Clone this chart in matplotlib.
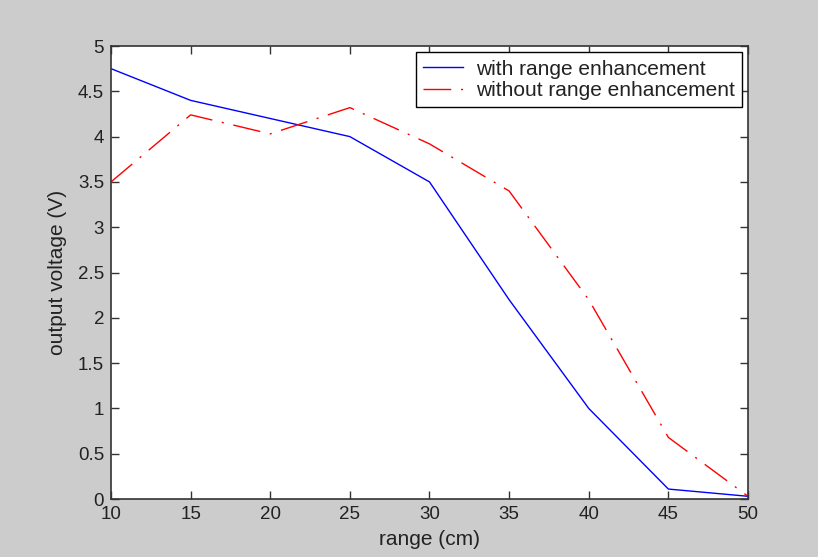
import matplotlib
matplotlib.use('Agg')
import matplotlib.pyplot as plt

plt.rcParams['font.family'] = ['Liberation Sans', 'DejaVu Sans']

range_cm = [10, 15, 20, 25, 30, 35, 40, 45, 50]
with_enh = [4.75, 4.40, 4.20, 4.00, 3.50, 2.20, 1.00, 0.11, 0.03]
without_enh = [3.50, 4.24, 4.03, 4.32, 3.92, 3.40, 2.20, 0.68, 0.03]

fig = plt.figure(figsize=(8.18, 5.57), dpi=100, facecolor='#cccccc')
ax = fig.add_axes([0.1357, 0.1041, 0.7787, 0.8133])
ax.set_facecolor('white')

ax.plot(range_cm, with_enh, color='#0000ff', lw=1.0, label='with range enhancement')
ax.plot(range_cm, without_enh, color='#ff0000', lw=1.0, dashes=(20, 7, 1.5, 7),
        label='without range enhancement')

ax.set_xlim(10, 50)
ax.set_ylim(0, 5)
ax.set_xticks(range(10, 51, 5))
ax.set_yticks([0, 0.5, 1, 1.5, 2, 2.5, 3, 3.5, 4, 4.5, 5])
ax.set_yticklabels(['0', '0.5', '1', '1.5', '2', '2.5', '3', '3.5', '4', '4.5', '5'])
ax.tick_params(direction='in', top=True, right=True, length=6, width=1,
               labelsize=13.5, colors='#333333', labelcolor='#222222', pad=5)
for s in ax.spines.values():
    s.set_color('#333333')
    s.set_linewidth(1.2)

ax.set_xlabel('range (cm)', fontsize=15, labelpad=5, color='#222222')
ax.set_ylabel('output voltage (V)', fontsize=15, labelpad=8, color='#222222')

leg = ax.legend(loc='upper right', fontsize=15, fancybox=False, framealpha=1,
                edgecolor='black', borderaxespad=0.3, handlelength=1.9,
                handletextpad=0.6, borderpad=0.35, labelspacing=0.12)
leg.get_frame().set_linewidth(1.0)
for t in leg.get_texts():
    t.set_color('#222222')

fig.savefig('out.png', dpi=100, facecolor=fig.get_facecolor())
